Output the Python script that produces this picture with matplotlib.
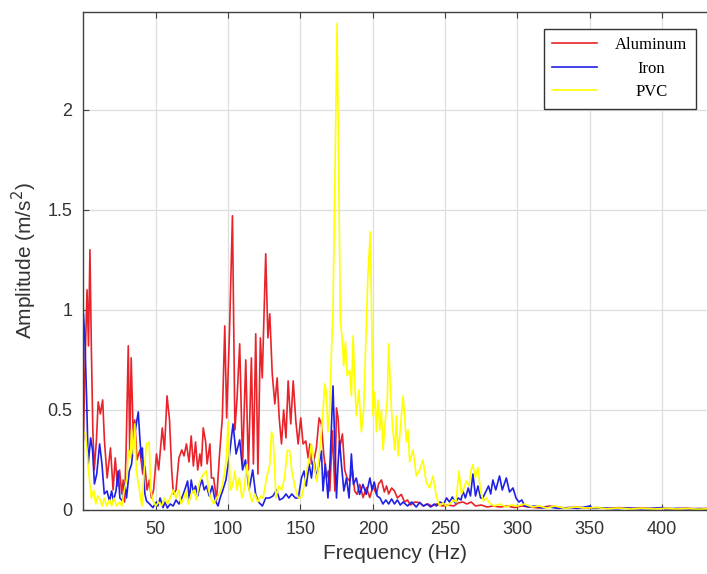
import numpy as np
import matplotlib
matplotlib.use("Agg")
import matplotlib.pyplot as plt

# Aluminum (red) - vertices
al_freq = [0, 1.2, 2.5, 3.5, 4.5, 5.5, 6.5, 7.5, 9, 10.2, 11.7, 13.3, 14.5, 16.4, 18.7, 20.5, 22, 23.5, 25, 26.5,
           27.5, 28.5, 29.5, 31, 32, 33, 34.5, 35.5, 37, 39, 41, 42.5, 44, 45.5, 47, 48.5, 50.5, 52, 54.5, 56,
           57.8, 59.5, 61, 62.2, 64, 66, 68, 69.5, 71.2, 73, 74.5, 76, 77.5, 79, 80.5, 81.5, 82.8, 84.5, 85.5, 87.4,
           88.5, 90, 92, 94.2, 96, 97.7, 99, 101, 103, 104.7, 106.2, 108, 110, 112.2, 114, 116.1, 117.5, 119.1, 120.6, 122.3,
           123.6, 126, 127.5, 128.8, 130.5, 132.3, 133.9, 135.3, 136.9, 138.4, 140, 141.5, 143.3, 145, 146.8, 148.4, 150.2, 151.8, 153.7, 155.3,
           156.5, 157.6, 159.2, 161, 162.9, 164.5, 166.1, 168, 169.2, 170.3, 172.1, 173.8, 174.9, 176, 177.2, 179, 180.6, 182.2,
           184, 185.9, 187.5, 189.1, 191, 193.3, 195.6, 197.9, 200.2, 202.5, 204, 206, 208, 209.5, 211, 213, 215, 217,
           219.7, 222, 224, 226, 229, 232.4, 235, 238, 241, 244, 248, 252, 256, 259, 262.3, 265, 268, 271, 275, 279,
           283, 288, 293, 298, 303, 308, 315, 322, 327, 333, 340, 348, 355, 362, 370, 378, 385, 393, 400, 408,
           416, 424, 431]
al_amp = [0.35, 0.75, 1.10, 0.82, 1.30, 0.80, 0.40, 0.20, 0.35, 0.54, 0.48, 0.55, 0.35, 0.16, 0.31, 0.10, 0.26, 0.12, 0.20, 0.08,
          0.15, 0.04, 0.30, 0.82, 0.30, 0.76, 0.35, 0.45, 0.25, 0.30, 0.18, 0.22, 0.10, 0.15, 0.06, 0.10, 0.28, 0.20, 0.41, 0.30,
          0.57, 0.45, 0.20, 0.08, 0.10, 0.26, 0.30, 0.27, 0.33, 0.24, 0.37, 0.22, 0.34, 0.20, 0.28, 0.22, 0.41, 0.34, 0.23, 0.33,
          0.16, 0.16, 0.05, 0.29, 0.46, 0.92, 0.46, 0.90, 1.47, 0.40, 0.56, 0.83, 0.23, 0.75, 0.20, 0.76, 0.23, 0.88, 0.18, 0.86,
          0.66, 1.28, 0.86, 0.98, 0.68, 0.53, 0.66, 0.46, 0.33, 0.50, 0.36, 0.645, 0.43, 0.645, 0.445, 0.33, 0.46, 0.33, 0.345, 0.26,
          0.33, 0.23, 0.245, 0.31, 0.46, 0.43, 0.28, 0.16, 0.195, 0.095, 0.395, 0.095, 0.51, 0.46, 0.31, 0.38, 0.20, 0.16,
          0.145, 0.20, 0.095, 0.078, 0.128, 0.062, 0.112, 0.062, 0.12, 0.078, 0.13, 0.15, 0.09, 0.12, 0.08, 0.11, 0.095, 0.06,
          0.078, 0.04, 0.05, 0.025, 0.04, 0.037, 0.02, 0.03, 0.02, 0.03, 0.02, 0.025, 0.02, 0.035, 0.04, 0.03, 0.04, 0.02, 0.025, 0.015,
          0.02, 0.015, 0.02, 0.012, 0.02, 0.015, 0.01, 0.02, 0.015, 0.01, 0.015, 0.01, 0.012, 0.008, 0.012, 0.008, 0.01, 0.007, 0.01, 0.006,
          0.009, 0.006, 0.008]

# Iron (blue)
fe_freq = [0, 1, 2.2, 3.3, 5, 6.3, 7.6, 9.2, 11.2, 12.8, 14.4, 16.3, 18, 19.5, 20.7, 22.5, 24, 25.2, 27, 28.7,
           29.8, 31.7, 33.3, 35, 37.9, 39, 40, 40.7, 41.5, 42.5, 43.6, 46, 48, 50.5, 51.5, 53, 55, 56.5, 58, 60,
           62, 64, 66, 68, 70, 72, 73.2, 74.5, 76, 77.5, 79, 80.5, 82, 83.5, 85, 87, 89, 91, 93, 94.5,
           96.4, 98.5, 101, 103.4, 105.5, 108, 110, 112, 114.5, 117, 119, 121, 123.7, 126, 128.5, 131, 133.5, 135.6, 138, 140,
           142, 144, 146.5, 148.5, 150.7, 152.5, 154, 156, 157.6, 159.2, 161, 162.9, 164.5, 165.6, 167.2, 169, 170.6, 172.5, 173.6, 174.9,
           176, 177, 178.3, 180, 181.8, 183.6, 185.2, 186.6, 188.6, 190.9, 193.2, 195.5, 198, 199.5, 201, 203, 205, 207, 209, 211,
           213, 215, 217, 219, 221, 224, 227, 230, 232.4, 235, 237.5, 240, 242.5, 244, 246.5, 249, 251, 253, 255, 257,
           259, 261, 262.3, 264, 266, 267.5, 269.2, 271, 272.7, 274.5, 276, 278, 280, 281.5, 283, 285, 287.6, 289.5, 292.3, 294.5,
           296.9, 299, 301, 303, 305, 308.3, 312, 317, 322, 328, 335, 342, 350, 352, 360, 368, 376, 385, 393, 400,
           402, 410, 418, 425, 431]
fe_amp = [0.98, 0.85, 0.56, 0.23, 0.36, 0.30, 0.13, 0.18, 0.33, 0.23, 0.08, 0.095, 0.045, 0.095, 0.045, 0.095, 0.195, 0.06, 0.045, 0.13,
          0.06, 0.195, 0.23, 0.36, 0.49, 0.36, 0.26, 0.31, 0.195, 0.08, 0.045, 0.028, 0.012, 0.04, 0.02, 0.06, 0.012, 0.04, 0.01, 0.03,
          0.02, 0.05, 0.03, 0.06, 0.10, 0.145, 0.05, 0.15, 0.09, 0.12, 0.07, 0.12, 0.15, 0.10, 0.12, 0.07, 0.12, 0.05, 0.02, 0.06,
          0.10, 0.15, 0.28, 0.43, 0.28, 0.35, 0.20, 0.25, 0.10, 0.20, 0.08, 0.04, 0.02, 0.06, 0.06, 0.07, 0.10, 0.05, 0.06, 0.08,
          0.06, 0.08, 0.06, 0.06, 0.16, 0.195, 0.12, 0.23, 0.16, 0.26, 0.16, 0.23, 0.295, 0.095, 0.23, 0.06, 0.26, 0.62, 0.36, 0.06,
          0.23, 0.345, 0.23, 0.095, 0.16, 0.06, 0.28, 0.128, 0.16, 0.078, 0.128, 0.078, 0.16, 0.10, 0.14, 0.07, 0.06, 0.03, 0.05, 0.03,
          0.055, 0.03, 0.05, 0.025, 0.04, 0.02, 0.04, 0.015, 0.037, 0.02, 0.03, 0.015, 0.03, 0.02, 0.04, 0.03, 0.06, 0.04, 0.065, 0.035,
          0.06, 0.05, 0.095, 0.06, 0.11, 0.07, 0.18, 0.07, 0.12, 0.06, 0.06, 0.09, 0.12, 0.08, 0.15, 0.10, 0.17, 0.10, 0.16, 0.09,
          0.11, 0.06, 0.04, 0.05, 0.02, 0.015, 0.02, 0.01, 0.015, 0.008, 0.012, 0.008, 0.02, 0.008, 0.01, 0.006, 0.01, 0.006, 0.008, 0.012,
          0.005, 0.008, 0.005, 0.007, 0.005]

# PVC (yellow)
pvc_freq = [0, 1.5, 2.5, 3.5, 4.5, 5.5, 7, 8.5, 10, 11.6, 13, 14.5, 16, 18, 19.5, 21, 23, 25, 26.5, 28,
            30.1, 31, 32.4, 33.3, 34.5, 35.5, 36.5, 38, 39.5, 40.5, 42, 43.6, 45.4, 46.5, 48, 50, 52, 54, 56, 58,
            60, 62, 64, 66, 67.5, 69.5, 71, 72.5, 74.5, 76.5, 78, 80.4, 82.8, 85, 86.5, 88, 90, 92, 94, 96,
            97.7, 98.8, 100, 101.5, 103, 104.7, 106, 107.8, 109.5, 111, 113.1, 114.5, 116.5, 118.5, 120.5, 122.5, 124.2, 126.5, 128.8, 130,
            131.1, 132.3, 133, 135, 137, 139, 141, 142.5, 144, 146, 148.5, 150.7, 152.5, 154.5, 156, 157.5, 158.7, 160, 161.5, 163.3,
            165, 166.8, 167.9, 169, 170.2, 171.3, 172.5, 173.8, 175.3, 176.5, 177.6, 178.7, 179.9, 181.1, 182.3, 184.1, 185.2, 186.4, 187.5, 188.6,
            190.4, 192.1, 193.7, 195, 196.6, 198.3, 199.2, 200.1, 201.3, 202.5, 203.6, 204.8, 205.9, 207.1, 208.9, 210, 211, 212.2, 213.6, 215.2,
            216.4, 217.5, 219.2, 220.9, 222, 223.2, 224.3, 225.5, 227.8, 230.1, 232.4, 234.6, 236.9, 239.2, 241.6, 243.9, 246.2, 248.5, 251, 253.1,
            255.5, 257.5, 259.6, 261.2, 262.5, 264.7, 266.5, 268, 269.2, 270.8, 272.7, 274.5, 276.5, 278.5, 280.7, 284, 288, 292, 296, 300,
            305, 310, 315, 320, 326, 333, 340, 347, 355, 362, 370, 378, 386, 394, 402, 410, 418, 425, 431]
pvc_amp = [0.39, 0.38, 0.30, 0.195, 0.13, 0.06, 0.10, 0.03, 0.07, 0.05, 0.02, 0.06, 0.02, 0.05, 0.02, 0.06, 0.02, 0.04, 0.02, 0.09,
           0.16, 0.30, 0.26, 0.40, 0.28, 0.43, 0.20, 0.13, 0.06, 0.02, 0.20, 0.33, 0.34, 0.10, 0.05, 0.02, 0.04, 0.02, 0.06, 0.03,
           0.06, 0.10, 0.06, 0.10, 0.03, 0.06, 0.095, 0.03, 0.08, 0.10, 0.05, 0.145, 0.178, 0.195, 0.10, 0.06, 0.03, 0.06, 0.08, 0.12,
           0.195, 0.26, 0.44, 0.10, 0.12, 0.195, 0.10, 0.16, 0.06, 0.10, 0.228, 0.10, 0.04, 0.08, 0.04, 0.07, 0.06, 0.16, 0.228, 0.39,
           0.36, 0.195, 0.06, 0.12, 0.10, 0.16, 0.30, 0.295, 0.20, 0.12, 0.06, 0.062, 0.12, 0.20, 0.25, 0.33, 0.27, 0.20, 0.14, 0.295,
           0.43, 0.63, 0.59, 0.39, 0.50, 0.76, 1.00, 1.64, 2.43, 1.64, 0.94, 0.87, 0.72, 0.84, 0.67, 0.70, 0.57, 0.87, 0.64, 0.47,
           0.60, 0.39, 0.50, 0.80, 1.17, 1.39, 0.97, 0.47, 0.59, 0.39, 0.55, 0.40, 0.50, 0.30, 0.47, 0.55, 0.83, 0.60, 0.42, 0.30,
           0.47, 0.27, 0.42, 0.57, 0.47, 0.34, 0.40, 0.24, 0.30, 0.17, 0.20, 0.25, 0.14, 0.11, 0.17, 0.07, 0.02, 0.035, 0.02, 0.03,
           0.05, 0.04, 0.195, 0.078, 0.10, 0.145, 0.12, 0.20, 0.228, 0.162, 0.212, 0.095, 0.045, 0.06, 0.035, 0.02, 0.03, 0.015, 0.025, 0.02,
           0.03, 0.015, 0.02, 0.01, 0.02, 0.008, 0.015, 0.01, 0.012, 0.006, 0.01, 0.005, 0.009, 0.005, 0.008, 0.005, 0.007, 0.004, 0.006]

x_ticks = [50, 100, 150, 200, 250, 300, 350, 400]
y_ticks = [0, 0.5, 1, 1.5, 2]
y_ticklabels = ["0", "0.5", "1", "1.5", "2"]

plt.rcParams['font.family'] = ['Liberation Sans', 'DejaVu Sans']

fig = plt.figure(figsize=(7.07, 5.74), dpi=100)
ax = fig.add_axes([0.118, 0.1115, 0.882, 0.8675])

ax.plot(al_freq, al_amp, color='#e8232a', lw=1.2, label='Aluminum')
ax.plot(fe_freq, fe_amp, color='#2020e6', lw=1.2, label='Iron')
ax.plot(pvc_freq, pvc_amp, color='#ffff00', lw=1.2, label='PVC')

ax.set_xlim(0, 431)
ax.set_ylim(0, 2.4875)
ax.set_xticks(x_ticks)
ax.set_yticks(y_ticks)
ax.set_yticklabels(y_ticklabels)
ax.grid(True, color='#dedede', lw=0.9)
ax.set_axisbelow(True)
ax.tick_params(direction='in', top=True, right=False, length=4, width=0.8,
               colors='#404040', labelsize=13, labelcolor='#333333', pad=8)
for s in ax.spines.values():
    s.set_color('#404040')
    s.set_linewidth(1.0)
ax.spines['right'].set_visible(False)

ax.set_xlabel('Frequency (Hz)', fontsize=15, color='#333333', labelpad=4)
ax.set_ylabel('Amplitude (m/s$^2$)', fontsize=15, color='#333333', labelpad=6)

leg = ax.legend(loc='upper right', bbox_to_anchor=(0.982, 0.966), borderaxespad=0,
                prop={'family': 'Liberation Serif', 'size': 12}, fancybox=False,
                edgecolor='#333333', framealpha=1, handlelength=2.7, handletextpad=1.1,
                labelspacing=0.45, borderpad=0.5)
leg.get_frame().set_linewidth(1.0)

# centre the legend labels like the original
fig.canvas.draw()
texts = leg.get_texts()
widths = [t.get_window_extent().width for t in texts]
for t, w in zip(texts, widths):
    t.set_x((max(widths) - w) / 2)

fig.savefig('out.png', dpi=100)
